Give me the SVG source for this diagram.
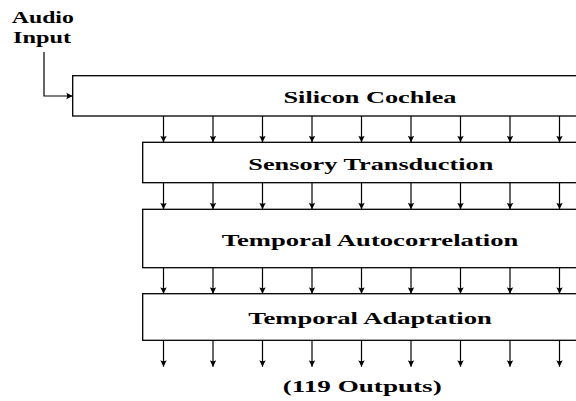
<svg xmlns="http://www.w3.org/2000/svg" width="576" height="401" viewBox="0 0 576 401">
<style>
.box{fill:#fff;stroke:#000;stroke-width:1.3}
.lbl{font-family:"Liberation Serif","Times New Roman",serif;font-weight:bold;font-size:17px;fill:#000}
.con{stroke:#000;stroke-width:1.2;fill:none;marker-end:url(#ah)}
</style>
<defs>
<marker id="ah" viewBox="-7 -4 8 8" markerWidth="8" markerHeight="8" refX="0" refY="0" orient="auto" markerUnits="userSpaceOnUse">
<path d="M0,0 L-6.5,-3.2 Q-4.5,0 -6.5,3.2 Z" fill="#000"/>
</marker>
</defs>
<g id="input-label">
<text class="lbl" x="42.8" y="22.7" text-anchor="middle" textLength="62" lengthAdjust="spacingAndGlyphs">Audio</text>
<text class="lbl" x="42" y="43.3" text-anchor="middle" textLength="58" lengthAdjust="spacingAndGlyphs">Input</text>
</g>
<g id="silicon-cochlea">
<rect class="box" x="72.7" y="75.7" width="520" height="40.3"/>
<text class="lbl" x="370" y="103" text-anchor="middle" textLength="173" lengthAdjust="spacingAndGlyphs">Silicon Cochlea</text>
</g>
<g id="sensory-transduction">
<rect class="box" x="142.7" y="142.3" width="450" height="40.4"/>
<text class="lbl" x="370.8" y="169.5" text-anchor="middle" textLength="245" lengthAdjust="spacingAndGlyphs">Sensory Transduction</text>
</g>
<g id="temporal-autocorrelation">
<rect class="box" x="142.7" y="209.3" width="450" height="58.4"/>
<text class="lbl" x="370" y="245.5" text-anchor="middle" textLength="296.6" lengthAdjust="spacingAndGlyphs">Temporal Autocorrelation</text>
</g>
<g id="temporal-adaptation">
<rect class="box" x="142.7" y="293.7" width="450" height="46.6"/>
<text class="lbl" x="370" y="324" text-anchor="middle" textLength="243.7" lengthAdjust="spacingAndGlyphs">Temporal Adaptation</text>
</g>
<g id="outputs-label">
<text class="lbl" x="362.2" y="392" text-anchor="middle" textLength="159" lengthAdjust="spacingAndGlyphs">(119 Outputs)</text>
</g>
<g id="connectors">
<path class="con" d="M44,52 V96 H72.7"/>
<path class="con" d="M163.5,116 V142.3"/><path class="con" d="M213,116 V142.3"/><path class="con" d="M262.5,116 V142.3"/><path class="con" d="M312,116 V142.3"/><path class="con" d="M361.5,116 V142.3"/><path class="con" d="M411,116 V142.3"/><path class="con" d="M460.5,116 V142.3"/><path class="con" d="M510,116 V142.3"/><path class="con" d="M559.5,116 V142.3"/>
<path class="con" d="M163.5,182.7 V209.3"/><path class="con" d="M213,182.7 V209.3"/><path class="con" d="M262.5,182.7 V209.3"/><path class="con" d="M312,182.7 V209.3"/><path class="con" d="M361.5,182.7 V209.3"/><path class="con" d="M411,182.7 V209.3"/><path class="con" d="M460.5,182.7 V209.3"/><path class="con" d="M510,182.7 V209.3"/><path class="con" d="M559.5,182.7 V209.3"/>
<path class="con" d="M163.5,267.7 V293.7"/><path class="con" d="M213,267.7 V293.7"/><path class="con" d="M262.5,267.7 V293.7"/><path class="con" d="M312,267.7 V293.7"/><path class="con" d="M361.5,267.7 V293.7"/><path class="con" d="M411,267.7 V293.7"/><path class="con" d="M460.5,267.7 V293.7"/><path class="con" d="M510,267.7 V293.7"/><path class="con" d="M559.5,267.7 V293.7"/>
<path class="con" d="M163.5,340.3 V366.7"/><path class="con" d="M213,340.3 V366.7"/><path class="con" d="M262.5,340.3 V366.7"/><path class="con" d="M312,340.3 V366.7"/><path class="con" d="M361.5,340.3 V366.7"/><path class="con" d="M411,340.3 V366.7"/><path class="con" d="M460.5,340.3 V366.7"/><path class="con" d="M510,340.3 V366.7"/><path class="con" d="M559.5,340.3 V366.7"/>
</g>
</svg>
